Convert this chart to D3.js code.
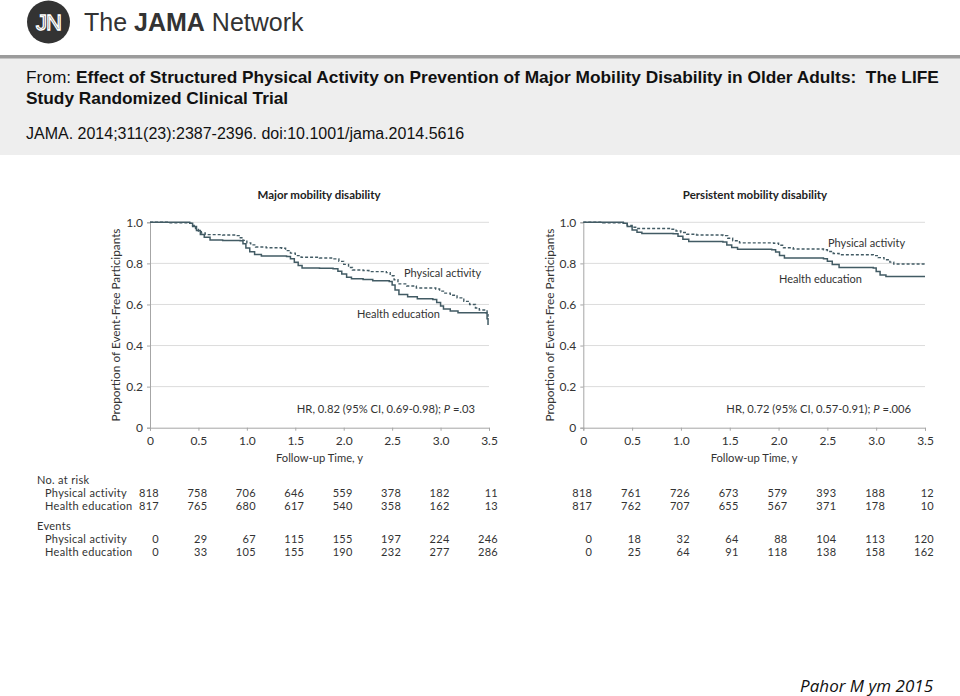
<!DOCTYPE html>
<html><head><meta charset="utf-8">
<script src="https://cdn.jsdelivr.net/npm/d3@7"></script>
<style>
html,body{margin:0;padding:0;background:#fff;}
svg{display:block;}
</style></head>
<body>
<svg id="chart" width="960" height="696"></svg>
<script>
// ---------- DATA ----------
const xTicks = [0, 0.5, 1.0, 1.5, 2.0, 2.5, 3.0, 3.5];
const yTicks = [0, 0.2, 0.4, 0.6, 0.8, 1.0];
const seriesNames = ["Physical activity", "Health education"];

// Major mobility disability (Kaplan-Meier, [time y, proportion])
const majorPhysical = [[0,1],[0.2,0.997],[0.41,0.995],[0.44,0.985],[0.47,0.97],[0.5,0.958],[0.53,0.948],[0.57,0.94],[0.75,0.938],[0.89,0.935],[0.92,0.925],[0.96,0.912],[1.0,0.9],[1.04,0.89],[1.09,0.88],[1.2,0.876],[1.36,0.874],[1.4,0.862],[1.45,0.85],[1.5,0.838],[1.56,0.83],[1.75,0.826],[1.9,0.822],[1.95,0.81],[2.0,0.795],[2.05,0.78],[2.09,0.768],[2.2,0.765],[2.26,0.76],[2.44,0.755],[2.48,0.74],[2.52,0.72],[2.56,0.70],[2.65,0.69],[2.75,0.68],[2.95,0.675],[2.99,0.665],[3.03,0.655],[3.1,0.645],[3.17,0.632],[3.24,0.615],[3.3,0.6],[3.36,0.583],[3.4,0.573],[3.47,0.573],[3.48,0.55],[3.49,0.54]];
const majorHealth = [[0,1],[0.41,0.995],[0.44,0.98],[0.48,0.96],[0.52,0.94],[0.56,0.927],[0.62,0.914],[0.75,0.912],[0.93,0.91],[0.96,0.895],[0.99,0.875],[1.03,0.857],[1.08,0.843],[1.15,0.836],[1.41,0.834],[1.45,0.822],[1.49,0.805],[1.53,0.79],[1.57,0.778],[1.75,0.776],[1.89,0.774],[1.94,0.762],[1.98,0.748],[2.03,0.733],[2.08,0.725],[2.2,0.722],[2.3,0.716],[2.47,0.712],[2.5,0.695],[2.53,0.67],[2.57,0.648],[2.66,0.638],[2.76,0.628],[2.92,0.624],[2.96,0.61],[3.0,0.592],[3.03,0.578],[3.1,0.568],[3.18,0.56],[3.47,0.558],[3.48,0.53],[3.49,0.5]];

// Persistent mobility disability
const persistPhysical = [[0,1],[0.2,0.997],[0.41,0.995],[0.45,0.985],[0.5,0.976],[0.55,0.97],[0.9,0.966],[0.95,0.958],[1.0,0.95],[1.06,0.942],[1.16,0.938],[1.43,0.935],[1.48,0.922],[1.53,0.91],[1.6,0.9],[1.95,0.898],[2.0,0.888],[2.05,0.876],[2.15,0.87],[2.46,0.866],[2.5,0.858],[2.56,0.848],[2.62,0.842],[2.97,0.838],[3.02,0.828],[3.08,0.818],[3.14,0.806],[3.18,0.797],[3.5,0.797]];
const persistHealth = [[0,1],[0.41,0.995],[0.45,0.98],[0.5,0.963],[0.55,0.951],[0.6,0.946],[0.92,0.944],[0.97,0.932],[1.02,0.918],[1.08,0.906],[1.43,0.904],[1.47,0.89],[1.52,0.877],[1.58,0.869],[1.93,0.866],[1.97,0.855],[2.01,0.838],[2.06,0.826],[2.46,0.823],[2.5,0.81],[2.55,0.795],[2.62,0.78],[2.97,0.777],[3.0,0.76],[3.04,0.744],[3.1,0.736],[3.5,0.736]];

// Tables
const majorRiskPhysical = [818, 758, 706, 646, 559, 378, 182, 11];
const majorRiskHealth   = [817, 765, 680, 617, 540, 358, 162, 13];
const majorEventsPhysical = [0, 29, 67, 115, 155, 197, 224, 246];
const majorEventsHealth   = [0, 33, 105, 155, 190, 232, 277, 286];
const persistRiskPhysical = [818, 761, 726, 673, 579, 393, 188, 12];
const persistRiskHealth   = [817, 762, 707, 655, 567, 371, 178, 10];
const persistEventsPhysical = [0, 18, 32, 64, 88, 104, 113, 120];
const persistEventsHealth   = [0, 25, 64, 91, 118, 138, 158, 162];

// ---------- DRAW ----------
const svg = d3.select("#chart");
const CF = "Lato, 'Open Sans', sans-serif";
const lineColor = "#425b64";
const textColor = "#333";

// header
svg.append("rect").attr("x",0).attr("y",0).attr("width",960).attr("height",696).attr("fill","#fff");
svg.append("rect").attr("x",0).attr("y",58).attr("width",960).attr("height",97).attr("fill","#eeeeee");
svg.append("rect").attr("x",0).attr("y",55).attr("width",960).attr("height",3.5).attr("fill","#9b9b9b");

// logo
svg.append("circle").attr("cx",48.5).attr("cy",22).attr("r",21.5).attr("fill","#333");
svg.append("text").attr("x",48.5).attr("y",30).attr("text-anchor","middle")
  .attr("font-family","'Liberation Sans', Arial, sans-serif").attr("font-size",22)
  .attr("fill","none").attr("stroke","#fff").attr("stroke-width",1.3).attr("letter-spacing",-1).text("JN");
const logoT = svg.append("text").attr("x",84).attr("y",31)
  .attr("font-family","'Liberation Sans', Arial, sans-serif").attr("font-size",25).attr("fill","#333");
logoT.append("tspan").text("The ");
logoT.append("tspan").attr("font-weight","bold").text("JAMA");
logoT.append("tspan").text(" Network");

const HF = "'Liberation Sans', Arial, sans-serif";
const h1 = svg.append("text").attr("x",26).attr("y",83).attr("font-family",HF).attr("font-size",17.3)
  .attr("fill","#111").style("white-space","pre");
h1.append("tspan").text("From: ");
h1.append("tspan").attr("font-weight","bold").text("Effect of Structured Physical Activity on Prevention of Major Mobility Disability in Older Adults:  The LIFE");
svg.append("text").attr("x",26).attr("y",104).attr("font-family",HF).attr("font-size",17.3).attr("font-weight","bold").attr("fill","#111")
  .text("Study Randomized Clinical Trial");
svg.append("text").attr("x",26).attr("y",139).attr("font-family",HF).attr("font-size",16).attr("fill","#111")
  .text("JAMA. 2014;311(23):2387-2396. doi:10.1001/jama.2014.5616");

// footer
svg.append("text").attr("x",933).attr("y",692).attr("text-anchor","end")
  .attr("font-family","'Open Sans', sans-serif").attr("font-style","italic").attr("font-size",17).attr("fill","#111")
  .text("Pahor M ym 2015");

function panel(cfg){
  const g = svg.append("g");
  const x = d3.scaleLinear().domain([0,3.5]).range([cfg.x0, cfg.x1]);
  const y = d3.scaleLinear().domain([0,1]).range([427.7, 222.3]);

  // gridlines
  g.selectAll("line.grid").data(yTicks.filter(d=>d>0)).join("line")
    .attr("x1",x(0)).attr("x2",x(3.5)).attr("y1",d=>y(d)).attr("y2",d=>y(d))
    .attr("stroke","#dcdcdc").attr("stroke-width",1);

  // axes
  const xAxis = d3.axisBottom(x).tickValues(xTicks).tickSize(3)
    .tickFormat(d=> d===0 ? "0" : d3.format(".1f")(d));
  const yAxis = d3.axisLeft(y).tickValues(yTicks).tickSize(3)
    .tickFormat(d=> d===0 ? "0" : d3.format(".1f")(d));
  const gx = g.append("g").attr("transform",`translate(0,${y(0)})`).call(xAxis);
  const gy = g.append("g").attr("transform",`translate(${x(0)},0)`).call(yAxis);
  [gx,gy].forEach(a=>{
    a.select(".domain").attr("stroke","#a6a6a6");
    a.selectAll(".tick line").attr("stroke","#a6a6a6");
    a.selectAll(".tick text").attr("font-family",CF).attr("font-size",12).attr("fill",textColor);
  });
  gx.selectAll(".tick text").attr("dy","0.95em");
  gy.selectAll(".tick text").attr("dx","-1");

  // title & axis labels
  g.append("text").attr("x",cfg.titleX).attr("y",199).attr("text-anchor","middle")
    .attr("font-family",CF).attr("font-weight","bold").attr("font-size",11.5).attr("fill","#222").text(cfg.title);
  g.append("text").attr("transform",`translate(${cfg.ylabX},325) rotate(-90)`).attr("text-anchor","middle")
    .attr("font-family",CF).attr("font-size",11.8).attr("fill",textColor).text("Proportion of Event-Free Participants");
  g.append("text").attr("x",(x(0)+x(3.5))/2).attr("y",462).attr("text-anchor","middle")
    .attr("font-family",CF).attr("font-size",11.2).attr("fill",textColor).text("Follow-up Time, y");

  // curves
  const line = d3.line().x(d=>x(d[0])).y(d=>y(d[1])).curve(d3.curveStepAfter);
  g.append("path").datum(cfg.health).attr("d",line).attr("fill","none")
    .attr("stroke",lineColor).attr("stroke-width",1.5);
  g.append("path").datum(cfg.physical).attr("d",line).attr("fill","none")
    .attr("stroke",lineColor).attr("stroke-width",1.4).attr("stroke-dasharray","3,2");

  // curve labels
  g.append("text").attr("x",cfg.paLab[0]).attr("y",cfg.paLab[1]).attr("font-family",CF).attr("font-size",11)
    .attr("fill",textColor).text(seriesNames[0]);
  g.append("text").attr("x",cfg.heLab[0]).attr("y",cfg.heLab[1]).attr("font-family",CF).attr("font-size",11)
    .attr("fill",textColor).text(seriesNames[1]);

  // HR text
  const hr = g.append("text").attr("x",x(3.5)-14).attr("y",413).attr("text-anchor","end")
    .attr("font-family",CF).attr("font-size",11.2).attr("fill",textColor);
  hr.append("tspan").text(cfg.hr);
  hr.append("tspan").attr("font-style","italic").text("P");
  hr.append("tspan").text(" =" + cfg.p);

  // tables
  const rows = [
    {vals: cfg.riskP, y: 496.7},
    {vals: cfg.riskH, y: 509.9},
    {vals: cfg.evP, y: 543},
    {vals: cfg.evH, y: 556.2}
  ];
  rows.forEach(r=>{
    g.selectAll(null).data(r.vals).join("text")
      .attr("x",(d,i)=>x(xTicks[i])+9).attr("y",r.y).attr("text-anchor","end")
      .attr("font-family",CF).attr("font-size",11).attr("letter-spacing",0.3).attr("fill",textColor).text(d=>d);
  });
}

panel({x0:150, x1:489, titleX:319, ylabX:120, title:"Major mobility disability",
  physical: majorPhysical, health: majorHealth,
  paLab:[404,277], heLab:[357,318], hr:"HR, 0.82 (95% CI, 0.69-0.98); ", p:".03",
  riskP: majorRiskPhysical, riskH: majorRiskHealth, evP: majorEventsPhysical, evH: majorEventsHealth});
panel({x0:583.3, x1:925, titleX:755, ylabX:554, title:"Persistent mobility disability",
  physical: persistPhysical, health: persistHealth,
  paLab:[828,247], heLab:[779,283], hr:"HR, 0.72 (95% CI, 0.57-0.91); ", p:".006",
  riskP: persistRiskPhysical, riskH: persistRiskHealth, evP: persistEventsPhysical, evH: persistEventsHealth});

// table row labels
const labs = [["No. at risk",37,483.5],["Physical activity",45,496.7],["Health education",45,509.9],
              ["Events",37,529.8],["Physical activity",45,543],["Health education",45,556.2]];
svg.selectAll("text.rowlab").data(labs).join("text").attr("class","rowlab")
  .attr("x",d=>d[1]).attr("y",d=>d[2]).attr("font-family",CF).attr("font-size",11).attr("letter-spacing",0.3)
  .attr("fill",textColor).text(d=>d[0]);
</script>
</body></html>
